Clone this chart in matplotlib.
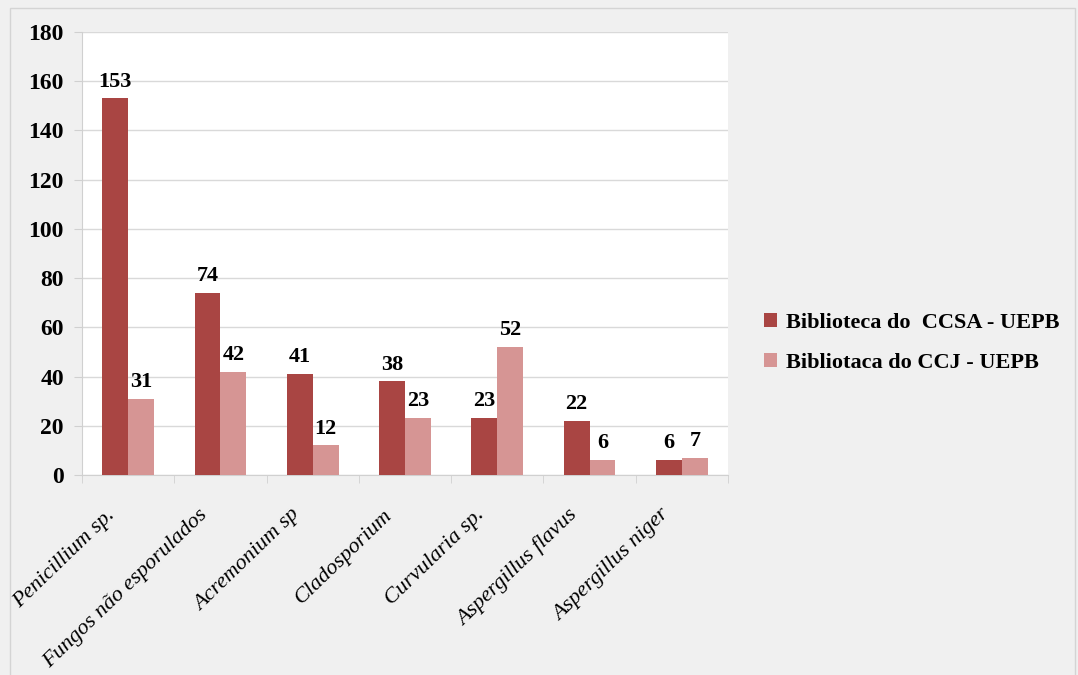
import numpy as np
import matplotlib.pyplot as plt
from matplotlib.patches import Rectangle

categories = ['Penicillium sp.', 'Fungos não esporulados', 'Acremonium sp',
              'Cladosporium', 'Curvularia sp.', 'Aspergillus flavus', 'Aspergillus niger']
ccsa = [153, 74, 41, 38, 23, 22, 6]
ccj = [31, 42, 12, 23, 52, 6, 7]
series_names = ['Biblioteca do  CCSA - UEPB', 'Bibliotaca do CCJ - UEPB']

plt.rcParams['font.family'] = 'Liberation Serif'

fig = plt.figure(figsize=(10.78, 6.75), dpi=100, facecolor='#f0f0f0')
fig.patches.append(Rectangle((10/1078, -0.01), 1065/1078, 1 - 8/675 + 0.01,
                             transform=fig.transFigure, fill=False,
                             edgecolor='#d4d4d4', linewidth=1))
ax = fig.add_axes([82/1078, 1 - 475/675, 646/1078, 443/675])
ax.set_facecolor('white')

x = np.arange(len(categories))
w = 0.28
b1 = ax.bar(x - w/2, ccsa, w, color='#a94543', label=series_names[0], zorder=3)
b2 = ax.bar(x + w/2, ccj, w, color='#d69594', label=series_names[1], zorder=3)

for bars in (b1, b2):
    for r in bars:
        ax.annotate(f'{int(r.get_height())}', (r.get_x() + r.get_width()/2, r.get_height()),
                    xytext=(0, 5), textcoords='offset points', ha='center', va='bottom',
                    fontsize=16, fontweight='bold')

ax.set_xlim(-0.5, len(categories) - 0.5)
ax.set_ylim(0, 180)
ax.set_yticks(range(0, 181, 20))
ax.yaxis.grid(True, color='#d9d9d9', linewidth=1, zorder=0)
for lbl in ax.get_yticklabels():
    lbl.set_fontweight('bold')
ax.tick_params(axis='y', labelsize=17, length=6, color='#d0d0d0', pad=7)

# category labels, rotated, drawn as text below the axis
ax.set_xticks(x)
ax.set_xticklabels([])
ax.tick_params(axis='x', which='major', length=0)
for xi, name in zip(x, categories):
    ax.annotate(name, (xi, 0), xycoords=('data', 'axes fraction'),
                xytext=(-16, -22), textcoords='offset points',
                rotation=44, ha='right', va='top', rotation_mode='anchor',
                fontstyle='italic', fontsize=16)
ax.set_xticks(np.arange(-0.5, len(categories)), minor=True)
ax.tick_params(axis='x', which='minor', length=6, color='#d0d0d0')

for s in ['top', 'right']:
    ax.spines[s].set_visible(False)
ax.spines['left'].set_color('#d0d0d0')
ax.spines['bottom'].set_color('#d0d0d0')

fig.legend(loc='center left', bbox_to_anchor=(744/1078, 1 - 343/675), frameon=False,
           prop={'weight': 'bold', 'size': 16}, handlelength=0.6, handleheight=0.6,
           handletextpad=0.4, labelspacing=0.9)

plt.savefig('out.png', dpi=100, facecolor=fig.get_facecolor())
